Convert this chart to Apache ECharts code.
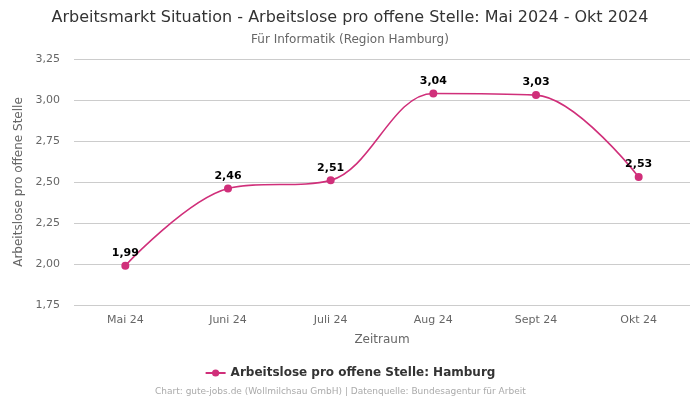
<!DOCTYPE html>
<html><head><meta charset="utf-8">
<script src="https://cdn.jsdelivr.net/npm/echarts@6/dist/echarts.min.js"></script>
<style>html,body{margin:0;padding:0;background:#fff}#c{width:700px;height:400px}</style>
</head><body><div id="c"></div>
<script>
var categories = ["Mai 24", "Juni 24", "Juli 24", "Aug 24", "Sept 24", "Okt 24"];
var values = [1.99, 2.46, 2.51, 3.04, 3.03, 2.53];
var seriesName = "Arbeitslose pro offene Stelle: Hamburg";
var fmt = function(v){ return v.toFixed(2).replace('.', ','); };
var chart = echarts.init(document.getElementById('c'));
chart.setOption({
  animation: false,
  textStyle: { fontFamily: 'DejaVu Sans' },
  title: [
    { text: 'Arbeitsmarkt Situation - Arbeitslose pro offene Stelle: Mai 2024 - Okt 2024', left: 'center', top: 5,
      textStyle: { fontSize: 16, fontWeight: 'normal', color: '#333', fontFamily: 'DejaVu Sans' } },
    { text: 'Für Informatik (Region Hamburg)', left: 'center', top: 29,
      textStyle: { fontSize: 12, fontWeight: 'normal', color: '#666', fontFamily: 'DejaVu Sans' } },
    { text: 'Chart: gute-jobs.de (Wollmilchsau GmbH) | Datenquelle: Bundesagentur für Arbeit', left: 155, top: 387, padding: 0,
      textStyle: { fontSize: 9, fontWeight: 'normal', color: '#aaa', fontFamily: 'DejaVu Sans' } }
  ],
  legend: { left: 'center', itemWidth: 20, itemHeight: 9, top: 362,
    textStyle: { fontSize: 12, fontWeight: 'bold', color: '#333', fontFamily: 'DejaVu Sans' },
    data: [seriesName] },
  grid: { left: 74, right: 10, top: 59, bottom: 95 },
  xAxis: { type: 'category', data: categories, boundaryGap: true,
    name: 'Zeitraum', nameLocation: 'middle', nameGap: 29,
    nameTextStyle: { color: '#666', fontSize: 12 },
    axisLine: { show: false }, axisTick: { show: false },
    axisLabel: { color: '#666', fontSize: 11, margin: 10 } },
  yAxis: { type: 'value', min: 1.75, max: 3.25, interval: 0.25,
    name: 'Arbeitslose pro offene Stelle', nameLocation: 'middle', nameGap: 43,
    nameTextStyle: { color: '#666', fontSize: 12 },
    axisLabel: { color: '#666', fontSize: 11, formatter: fmt, margin: 14 },
    splitLine: { lineStyle: { color: '#ccc' } } },
  series: [{ name: seriesName, type: 'line', data: values, smooth: 0.35,
    symbol: 'circle', symbolSize: 8,
    itemStyle: { color: '#d02f7a' }, lineStyle: { color: '#d02f7a', width: 1.6 },
    label: { show: true, position: 'top', distance: 3, formatter: function(p){ return fmt(p.value); },
      fontWeight: 'bold', fontSize: 11, color: '#000' } }]
});
</script></body></html>
